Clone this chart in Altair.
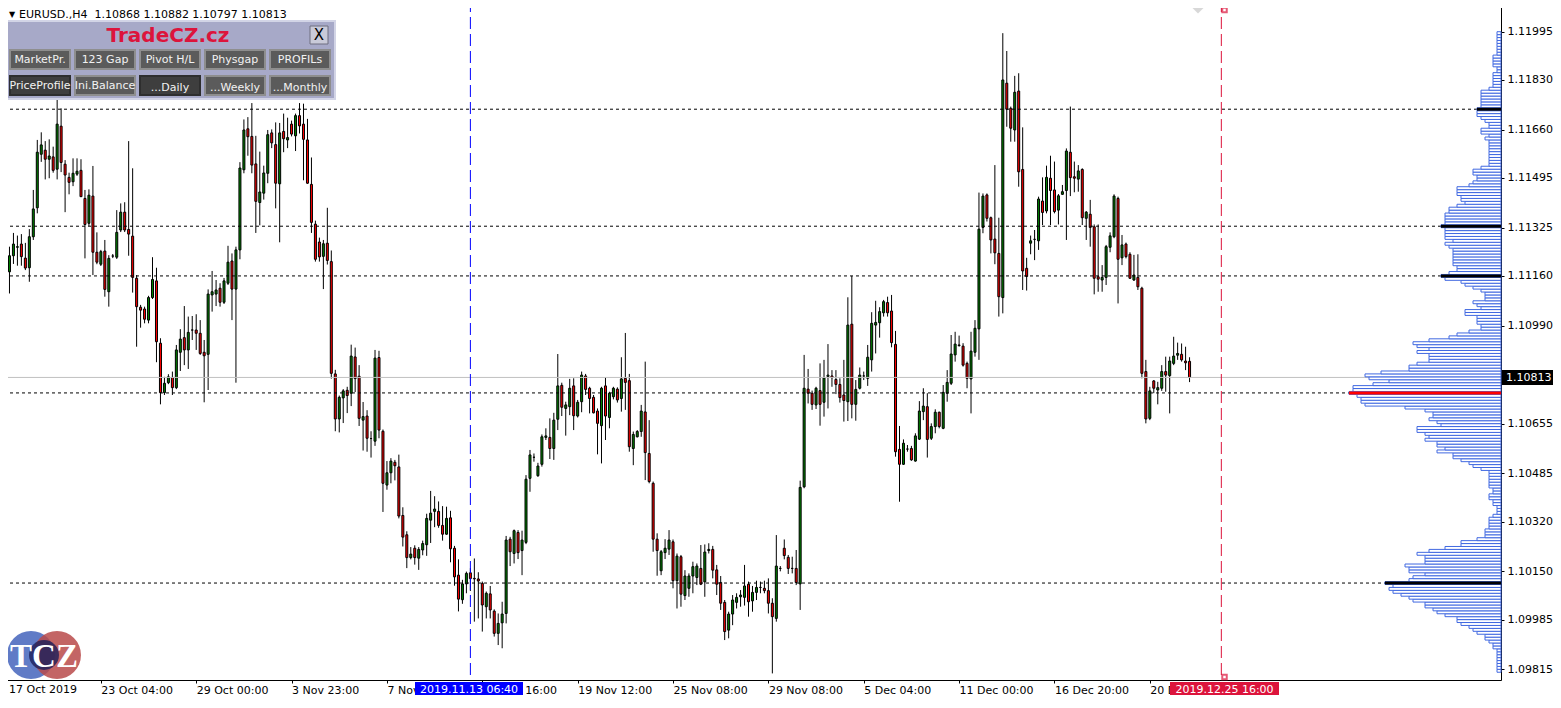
import altair as alt
import pandas as pd

# ---------------- candle data (EURUSD H4) ----------------
open_ = [1.10702,1.11174,1.11229,1.11258,1.11269,1.11221,1.11188,1.11294,1.11393,1.11576,
1.11590,1.11559,1.11567,1.11525,1.11672,1.11542,1.11497,1.11482,1.11508,1.11521,
1.11425,1.11340,1.11433,1.11241,1.11200,1.11245,1.11106,1.11228,1.11224,1.11317,
1.11378,1.11319,1.11296,1.11152,1.11053,1.11047,1.11009,1.11086,1.11143,1.10930,
1.10761,1.10795,1.10813,1.10778,1.10899,1.10949,1.10907,1.10975,1.10975,1.10964,
1.10899,1.10892,1.11095,1.11098,1.11118,1.11070,1.11135,1.11211,1.11115,1.11249,
1.11523,1.11663,1.11637,1.11543,1.11411,1.11443,1.11511,1.11649,1.11609,1.11475,
1.11654,1.11625,1.11679,1.11639,1.11708,1.11679,1.11625,1.11473,1.11337,1.11276,
1.11227,1.11272,1.11209,1.10825,1.10671,1.10743,1.10769,1.10759,1.10883,1.10817,
1.10667,1.10681,1.10604,1.10595,1.10881,1.10629,1.10445,1.10487,1.10523,1.10507,
1.10341,1.10275,1.10197,1.10229,1.10195,1.10223,1.10241,1.10325,1.10355,1.10355,
1.10307,1.10277,1.10333,1.10229,1.10137,1.10053,1.10107,1.10145,1.10126,1.10124,
1.10109,1.10029,1.10073,1.10014,1.09938,1.09974,1.10006,1.10260,1.10211,1.10283,
1.10221,1.10249,1.10468,1.10540,1.10477,1.10516,1.10608,1.10608,1.10570,1.10670,
1.10786,1.10707,1.10713,1.10784,1.10681,1.10730,1.10818,1.10776,1.10745,1.10698,
1.10648,1.10784,1.10676,1.10747,1.10773,1.10741,1.10810,1.10802,1.10570,1.10610,
1.10628,1.10695,1.10553,1.10451,1.10260,1.10152,1.10214,1.10226,1.10251,1.10118,
1.10200,1.10067,1.10092,1.10134,1.10129,1.10160,1.10114,1.10221,1.10225,1.10155,
1.10112,1.10044,1.09949,1.10004,1.10044,1.10063,1.10061,1.10106,1.10049,1.10078,
1.10095,1.10092,1.10084,1.10041,1.09989,1.10160,1.10229,1.10198,1.10160,1.10160,
1.10107,1.10439,1.10773,1.10759,1.10719,1.10768,1.10728,1.10816,1.10818,1.10806,
1.10789,1.10753,1.10730,1.10995,1.10721,1.10776,1.10818,1.10810,1.10873,1.10992,
1.11000,1.11034,1.11069,1.11040,1.10926,1.10567,1.10516,1.10568,1.10570,1.10527,
1.10602,1.10696,1.10713,1.10605,1.10645,1.10694,1.10639,1.10759,1.10793,1.10890,
1.10924,1.10920,1.10861,1.10808,1.10899,1.10979,1.11326,1.11437,1.11359,1.11286,
1.11237,1.11086,1.11819,1.11733,1.11659,1.11792,1.11524,1.11186,1.11272,1.11285,
1.11280,1.11416,1.11382,1.11494,1.11454,1.11385,1.11439,1.11452,1.11583,1.11499,
1.11491,1.11524,1.11357,1.11371,1.11328,1.11157,1.11146,1.11155,1.11258,1.11294,
1.11425,1.11222,1.11269,1.11234,1.11146,1.11155,1.11118,1.10833,1.10673,1.10801,
1.10770,1.10776,1.10833,1.10819,1.10861,1.10889,1.10892,1.10869,1.10868]
high = [1.11389,1.11260,1.11307,1.11298,1.11303,1.11273,1.11320,1.11454,1.11625,1.11651,
1.11621,1.11627,1.11602,1.11779,1.11733,1.11556,1.11513,1.11562,1.11562,1.11559,
1.11454,1.11456,1.11536,1.11309,1.11249,1.11283,1.11231,1.11235,1.11385,1.11408,
1.11412,1.11621,1.11528,1.11163,1.11061,1.11055,1.11092,1.11224,1.11188,1.10947,
1.10815,1.10824,1.10833,1.10924,1.10978,1.11057,1.11021,1.11023,1.11029,1.11009,
1.10941,1.11114,1.11177,1.11146,1.11135,1.11153,1.11263,1.11237,1.11260,1.11549,
1.11695,1.11703,1.11751,1.11639,1.11585,1.11537,1.11659,1.11661,1.11685,1.11683,
1.11715,1.11701,1.11691,1.11715,1.11751,1.11749,1.11697,1.11565,1.11349,1.11291,
1.11283,1.11393,1.11247,1.10839,1.10751,1.10773,1.10781,1.10925,1.10915,1.10855,
1.10729,1.10701,1.10629,1.10907,1.10904,1.10635,1.10527,1.10537,1.10531,1.10549,
1.10369,1.10287,1.10233,1.10239,1.10233,1.10255,1.10347,1.10425,1.10407,1.10389,
1.10373,1.10371,1.10357,1.10237,1.10191,1.10121,1.10149,1.10161,1.10194,1.10147,
1.10115,1.10081,1.10100,1.10020,1.10006,1.10046,1.10271,1.10268,1.10293,1.10291,
1.10289,1.10479,1.10565,1.10553,1.10521,1.10618,1.10639,1.10673,1.10692,1.10893,
1.10795,1.10730,1.10808,1.10810,1.10736,1.10833,1.10825,1.10781,1.10753,1.10707,
1.10781,1.10813,1.10764,1.10781,1.10779,1.10882,1.10965,1.10825,1.10628,1.10633,
1.10719,1.10867,1.10667,1.10457,1.10280,1.10223,1.10260,1.10291,1.10259,1.10211,
1.10206,1.10154,1.10143,1.10183,1.10177,1.10240,1.10242,1.10246,1.10237,1.10172,
1.10134,1.10052,1.10012,1.10069,1.10075,1.10086,1.10172,1.10115,1.10100,1.10118,
1.10115,1.10118,1.10126,1.10058,1.10274,1.10168,1.10259,1.10206,1.10200,1.10223,
1.10460,1.10890,1.10842,1.10768,1.10781,1.10861,1.10873,1.10927,1.10838,1.10838,
1.10810,1.10873,1.11087,1.11160,1.10804,1.10847,1.10833,1.10924,1.11036,1.11075,
1.11053,1.11078,1.11089,1.11095,1.10972,1.10647,1.10601,1.10582,1.10579,1.10622,
1.10732,1.10776,1.10759,1.10656,1.10704,1.10696,1.10787,1.10838,1.10958,1.10969,
1.10956,1.10930,1.10867,1.10969,1.11009,1.11445,1.11442,1.11442,1.11363,1.11539,
1.11359,1.11990,1.11929,1.11739,1.11844,1.11853,1.11668,1.11222,1.11298,1.11317,
1.11431,1.11497,1.11537,1.11571,1.11551,1.11440,1.11471,1.11596,1.11739,1.11551,
1.11539,1.11528,1.11382,1.11420,1.11336,1.11336,1.11197,1.11266,1.11309,1.11439,
1.11431,1.11300,1.11274,1.11241,1.11232,1.11234,1.11123,1.10873,1.10781,1.10804,
1.10798,1.10855,1.10884,1.10884,1.10952,1.10932,1.10929,1.10918,1.10882]
low = [1.10650,1.11100,1.11201,1.11195,1.11195,1.11180,1.11140,1.11283,1.11374,1.11550,
1.11490,1.11494,1.11513,1.11490,1.11515,1.11378,1.11439,1.11467,1.11502,1.11430,
1.11220,1.11331,1.11163,1.11200,1.11194,1.11089,1.11055,1.11221,1.11218,1.11310,
1.11310,1.11229,1.11103,1.10918,1.10983,1.10998,1.10998,1.11081,1.10865,1.10721,
1.10753,1.10790,1.10753,1.10773,1.10835,1.10855,1.10842,1.10941,1.10907,1.10890,
1.10728,1.10770,1.11038,1.11057,1.11055,1.11064,1.11129,1.11009,1.10795,1.11217,
1.11511,1.11571,1.11511,1.11307,1.11333,1.11421,1.11477,1.11597,1.11391,1.11275,
1.11583,1.11597,1.11637,1.11587,1.11647,1.11487,1.11475,1.11307,1.11209,1.11209,
1.11115,1.11199,1.10809,1.10629,1.10625,1.10657,1.10691,1.10715,1.10763,1.10647,
1.10563,1.10559,1.10539,1.10579,1.10605,1.10353,1.10429,1.10451,1.10461,1.10331,
1.10235,1.10161,1.10191,1.10173,1.10155,1.10205,1.10203,1.10247,1.10301,1.10299,
1.10255,1.10275,1.10181,1.10101,1.10013,1.10039,1.10075,1.10083,1.09978,1.09989,
1.09944,1.09989,1.09989,1.09927,1.09898,1.09887,1.09972,1.10168,1.10177,1.10192,
1.10137,1.10243,1.10422,1.10525,1.10473,1.10508,1.10599,1.10534,1.10531,1.10633,
1.10681,1.10614,1.10684,1.10633,1.10676,1.10694,1.10753,1.10690,1.10690,1.10550,
1.10519,1.10599,1.10639,1.10738,1.10727,1.10696,1.10702,1.10559,1.10513,1.10608,
1.10610,1.10462,1.10451,1.10217,1.10135,1.10137,1.10192,1.10206,1.10092,1.10023,
1.10029,1.10052,1.10063,1.10075,1.10103,1.10103,1.10063,1.10211,1.10126,1.10069,
1.10018,1.09915,1.09921,1.09966,1.10023,1.10029,1.10033,1.09995,1.10012,1.10052,
1.10075,1.10075,1.10006,1.09801,1.09978,1.10150,1.10191,1.10141,1.10143,1.10103,
1.10018,1.10434,1.10724,1.10702,1.10705,1.10648,1.10679,1.10707,1.10781,1.10756,
1.10727,1.10662,1.10664,1.10673,1.10665,1.10772,1.10804,1.10784,1.10833,1.10895,
1.10949,1.11021,1.11021,1.10916,1.10542,1.10388,1.10514,1.10559,1.10528,1.10525,
1.10599,1.10667,1.10539,1.10599,1.10622,1.10639,1.10636,1.10730,1.10787,1.10867,
1.10918,1.10850,1.10776,1.10690,1.10884,1.10873,1.11306,1.11346,1.11237,1.11200,
1.11021,1.11032,1.11670,1.11619,1.11619,1.11465,1.11112,1.11110,1.11234,1.11214,
1.11249,1.11334,1.11374,1.11334,1.11374,1.11336,1.11437,1.11283,1.11433,1.11446,
1.11448,1.11334,1.11283,1.11260,1.11097,1.11106,1.11106,1.11129,1.11241,1.11289,
1.11066,1.11197,1.11220,1.11150,1.11143,1.11112,1.10810,1.10656,1.10667,1.10759,
1.10721,1.10767,1.10764,1.10690,1.10855,1.10873,1.10867,1.10838,1.10797]
close = [1.11173,1.11229,1.11269,1.11260,1.11226,1.11187,1.11294,1.11389,1.11583,1.11608,
1.11559,1.11570,1.11521,1.11679,1.11548,1.11505,1.11480,1.11511,1.11518,1.11431,
1.11336,1.11436,1.11241,1.11207,1.11243,1.11114,1.11220,1.11228,1.11309,1.11378,
1.11317,1.11303,1.11155,1.11055,1.11043,1.11012,1.11086,1.11148,1.10935,1.10761,
1.10793,1.10815,1.10778,1.10907,1.10944,1.10907,1.10967,1.10975,1.10964,1.10895,
1.10887,1.11098,1.11106,1.11112,1.11070,1.11143,1.11207,1.11115,1.11249,1.11529,
1.11659,1.11636,1.11539,1.11415,1.11447,1.11512,1.11643,1.11615,1.11477,1.11649,
1.11629,1.11633,1.11645,1.11708,1.11673,1.11627,1.11477,1.11343,1.11217,1.11225,
1.11270,1.11213,1.10827,1.10671,1.10745,1.10767,1.10751,1.10886,1.10809,1.10673,
1.10679,1.10605,1.10604,1.10879,1.10633,1.10451,1.10487,1.10527,1.10511,1.10339,
1.10267,1.10197,1.10209,1.10197,1.10225,1.10245,1.10331,1.10349,1.10363,1.10307,
1.10277,1.10331,1.10227,1.10131,1.10055,1.10107,1.10143,1.10125,1.10124,1.10117,
1.10035,1.10075,1.10018,1.09938,1.09972,1.10004,1.10257,1.10217,1.10289,1.10214,
1.10257,1.10465,1.10548,1.10540,1.10510,1.10610,1.10613,1.10570,1.10667,1.10784,
1.10711,1.10719,1.10776,1.10682,1.10728,1.10821,1.10772,1.10741,1.10692,1.10656,
1.10776,1.10681,1.10759,1.10776,1.10736,1.10808,1.10796,1.10576,1.10618,1.10628,
1.10698,1.10556,1.10457,1.10260,1.10221,1.10217,1.10229,1.10257,1.10118,1.10202,
1.10072,1.10134,1.10134,1.10166,1.10168,1.10106,1.10216,1.10225,1.10154,1.10106,
1.10041,1.09944,1.10004,1.10052,1.10061,1.10069,1.10100,1.10046,1.10078,1.10095,
1.10095,1.10084,1.10041,1.09995,1.10168,1.10160,1.10204,1.10160,1.10160,1.10112,
1.10437,1.10776,1.10759,1.10721,1.10776,1.10721,1.10811,1.10821,1.10812,1.10789,
1.10744,1.10734,1.10992,1.10721,1.10772,1.10821,1.10818,1.10882,1.10998,1.11001,
1.11038,1.11072,1.11034,1.10932,1.10559,1.10516,1.10588,1.10568,1.10531,1.10613,
1.10698,1.10715,1.10601,1.10645,1.10694,1.10645,1.10762,1.10796,1.10893,1.10927,
1.10922,1.10855,1.10810,1.10903,1.10981,1.11320,1.11433,1.11357,1.11283,1.11239,
1.11089,1.11830,1.11730,1.11665,1.11788,1.11516,1.11177,1.11158,1.11280,1.11285,
1.11423,1.11377,1.11497,1.11452,1.11380,1.11434,1.11448,1.11587,1.11496,1.11494,
1.11519,1.11359,1.11378,1.11326,1.11152,1.11149,1.11155,1.11260,1.11297,1.11433,
1.11217,1.11266,1.11226,1.11152,1.11163,1.11123,1.10827,1.10671,1.10767,1.10776,
1.10778,1.10833,1.10821,1.10869,1.10886,1.10895,1.10873,1.10863,1.10813]

# ---------------- axis labels ----------------
time_tick_bars = [0, 24, 48, 72, 96, 120, 144, 168, 192, 216, 240, 264, 288]
time_tick_labels = ["17 Oct 2019", "23 Oct 04:00", "29 Oct 00:00", "3 Nov 23:00",
                    "7 Nov 19:00", "13 Nov 16:00", "19 Nov 12:00", "25 Nov 08:00",
                    "29 Nov 08:00", "5 Dec 04:00", "11 Dec 00:00", "16 Dec 20:00",
                    "20 Dec 16:00"]
price_ticks = [1.11995, 1.11830, 1.11660, 1.11495, 1.11325, 1.11160, 1.10990,
               1.10655, 1.10485, 1.10320, 1.10150, 1.09985, 1.09815]
bid_price = 1.10813

# ---------------- price profile (counts per pip, from 1.0981 upward) ----------------
profile_bottom = 1.0981
profile_counts = [1,1,1,1,1,1,1,1,2,2,
3,4,4,6,7,8,10,11,11,14,
16,17,19,19,22,23,25,27,28,27,
29,23,22,19,23,23,24,19,19,19,
21,18,14,10,10,6,4,4,4,3,
3,3,3,2,1,1,1,2,2,3,
3,2,2,3,3,3,3,3,3,5,
7,8,10,12,12,16,14,16,16,19,
18,19,21,21,15,16,18,17,17,19,
24,34,35,35,36,38,37,37,32,28,
33,34,30,23,23,21,18,18,18,21,
18,21,22,18,13,11,8,5,5,6,
6,6,9,9,5,6,7,4,4,4,
5,7,9,10,14,15,13,11,11,12,
12,12,12,12,12,13,14,12,14,14,
14,14,15,14,14,14,14,13,13,11,
9,10,10,11,11,11,8,7,6,6,
7,7,5,3,3,3,3,3,3,3,
3,3,4,3,5,5,3,3,4,5,
6,6,6,5,5,5,5,5,5,3,
2,2,2,2,2,1,1,2,2,2,
2,1,1,1,1,1,1,1,1]
poc_levels = [1.1173, 1.1133, 1.1116, 1.1011]
main_poc_level = 1.1076

# vertical markers (bar positions)
start_marker_bar = 117.0   # 2019.11.13 06:40
end_marker_bar = 306.0     # 2019.12.25 16:00

buttons_row1 = ["MarketPr.", "123 Gap", "Pivot H/L", "Physgap", "PROFILs"]
buttons_row2 = ["PriceProfile", "Ini.Balance", "...Daily", "...Weekly", "...Monthly"]

# ---------------- build tables ----------------
n = len(open_)
df = pd.DataFrame({"bar": list(range(n)), "open": open_, "high": high,
                   "low": low, "close": close})
df["lo"] = df[["open", "close"]].min(axis=1)
df["hi"] = df[["open", "close"]].max(axis=1)
df["dir"] = ["up" if c >= o else "down" for o, c in zip(df["open"], df["close"])]

levels = [round(profile_bottom + i * 0.0001, 4) for i in range(len(profile_counts))]
prof = pd.DataFrame({"level": levels, "count": profile_counts})
prof["lo"] = prof["level"] - 0.00005
prof["hi"] = prof["level"] + 0.00005
prof["zero"] = 0
poc_rows = prof[prof["level"].round(4).isin([round(v, 4) for v in poc_levels])].copy()
main_row = prof[prof["level"].round(4) == round(main_poc_level, 4)].copy()

W, H = 1501, 680
FONT = "DejaVu Sans"
# price at the top edge and at the time-axis line (2.925 px per pip)
ys = alt.Scale(domain=[1.097785, 1.121034], nice=False, zero=False)
xs = alt.Scale(domain=[-0.125, 375.125], nice=False, zero=False)

label_expr = ("datum.value == 0 ? '' : [" + ",".join("'%s'" % s for s in time_tick_labels)
              + "][round(datum.value/24)]")
x_axis = alt.Axis(values=time_tick_bars, labelExpr=label_expr, orient="bottom",
                  domainColor="black", domainWidth=1, tickColor="black", tickSize=3,
                  labelFont=FONT, labelFontSize=11, labelColor="black", labelAlign="left",
                  labelPadding=1, labelOverlap=False, labelFlush=False, labelBound=False,
                  grid=False, title=None, labelBaseline="top")
y_axis = alt.Axis(values=price_ticks, format=".5f", orient="right", domainColor="black",
                  domainWidth=1, tickColor="black", tickSize=3, labelFont=FONT,
                  labelFontSize=11, labelColor="black", labelPadding=3, labelFlush=False,
                  labelOverlap=False, grid=False, title=None)

hl = pd.DataFrame({"level": poc_levels + [main_poc_level]})
hlines = alt.Chart(hl).mark_rule(color="black", strokeWidth=1, strokeDash=[3, 3]).encode(
    y=alt.Y("level:Q", scale=ys, axis=y_axis))
bidline = alt.Chart(pd.DataFrame({"p": [bid_price]})).mark_rule(color="#C0C0C0", strokeWidth=1).encode(
    y=alt.Y("p:Q", scale=ys, axis=y_axis))

wicks = alt.Chart(df).mark_rule(color="black", strokeWidth=1, clip=True).encode(
    x=alt.X("bar:Q", scale=xs, axis=x_axis),
    y=alt.Y("low:Q", scale=ys, axis=y_axis),
    y2="high:Q")
bodies = alt.Chart(df).mark_bar(size=2, stroke="black", strokeWidth=1, clip=True).encode(
    x=alt.X("bar:Q", scale=xs, axis=x_axis),
    y=alt.Y("lo:Q", scale=ys, axis=y_axis),
    y2="hi:Q",
    fill=alt.Fill("dir:N", scale=alt.Scale(domain=["up", "down"], range=["#008000", "#FF0000"]), legend=None))

vstart = alt.Chart(pd.DataFrame({"bar": [start_marker_bar]})).mark_rule(
    strokeWidth=1, strokeDash=[12, 5], color="#0000FF").encode(x=alt.X("bar:Q", scale=xs, axis=x_axis))
vend = alt.Chart(pd.DataFrame({"bar": [end_marker_bar]})).mark_rule(
    strokeWidth=1, strokeDash=[12, 5], color="#DC143C").encode(x=alt.X("bar:Q", scale=xs, axis=x_axis))

main = alt.layer(wicks, bodies, hlines, bidline, vstart, vend)

pxs = alt.Scale(domain=[0, W / 4.0], reverse=True, nice=False, zero=True)
prof_bars = alt.Chart(prof).mark_rect(fill="white", stroke="#4169E1", strokeWidth=1).encode(
    x=alt.X("count:Q", scale=pxs, axis=None), x2="zero:Q",
    y=alt.Y("lo:Q", scale=ys, axis=y_axis), y2="hi:Q")
poc_black = alt.Chart(poc_rows).mark_rule(strokeWidth=3, color="black").encode(
    x=alt.X("count:Q", scale=pxs, axis=None), x2="zero:Q",
    y=alt.Y("level:Q", scale=ys, axis=y_axis))
poc_red = alt.Chart(main_row).mark_rule(strokeWidth=3, color="#FF0000").encode(
    x=alt.X("count:Q", scale=pxs, axis=None), x2="zero:Q",
    y=alt.Y("level:Q", scale=ys, axis=y_axis))
profile = alt.layer(prof_bars, poc_black, poc_red)

one = pd.DataFrame({"a": [0]})


def rect(x0, x1, y0, y1, fill, stroke=None, sw=1):
    kw = dict(fill=fill, clip=False)
    if stroke:
        kw["stroke"] = stroke
        kw["strokeWidth"] = sw
    return alt.Chart(one).mark_rect(**kw).encode(
        x=alt.value(x0), x2=alt.value(x1), y=alt.value(y0), y2=alt.value(y1))


def text(s, x, y, size=11, color="black", weight="normal", align="left",
         baseline="middle", font=FONT):
    return alt.Chart(one).mark_text(text=s, fontSize=size, font=font, fontWeight=weight,
                                    color=color, align=align, baseline=baseline,
                                    clip=False).encode(x=alt.value(x), y=alt.value(y))


ann = []
# header
ann.append(text("\u25BC", 12, 15, size=8, align="center"))
ann.append(text("EURUSD.,H4\u00a0\u00a01.10868 1.10882 1.10797 1.10813", 19, 15))
# first time label (its tick lies at the very left edge)
ann.append(text(time_tick_labels[0], 9, 684, baseline="top"))
# panel
ann.append(rect(5, 335, 21, 99, "#A7A9C8", "#D2D4E6", 2))
ann.append(text("TradeCZ.cz", 168, 36, size=20, color="#DC143C", weight="bold", align="center"))
ann.append(rect(310, 328, 26, 44, "#C9CAD9", "#6E6E80", 1))
ann.append(text("X", 319, 35, size=15, align="center"))
for r, row in enumerate([buttons_row1, buttons_row2]):
    for c, lab in enumerate(row):
        x0 = 10 + 65 * c
        y0 = 50 + 26 * r
        pressed = (r == 1 and c in (0, 2))
        ann.append(rect(x0, x0 + 60, y0, y0 + 19, "#3E3E3E" if pressed else "#5B5B5B",
                        "#2E2E2E" if pressed else "#8E8E8E", 2))
        ty = y0 + 10 if (r == 0 or c < 2) else y0 + 12
        ann.append(text(lab, x0 + 30, ty, size=11, color="#F2F2F2", align="center"))
# logo
ann.append(alt.Chart(one).mark_point(shape="circle", filled=True, size=2300, color="#4F6DC0",
                                     opacity=0.9).encode(x=alt.value(31), y=alt.value(655)))
ann.append(alt.Chart(one).mark_point(shape="circle", filled=True, size=2300, color="#B84A4A",
                                     opacity=0.85).encode(x=alt.value(57), y=alt.value(655)))
ann.append(alt.Chart(one).mark_point(shape="circle", filled=True, size=900, color="#1C1F5A",
                                     opacity=0.8).encode(x=alt.value(44), y=alt.value(655)))
ann.append(text("TCZ", 44, 657, size=33, color="white", weight="bold", align="center",
                font="Liberation Serif"))
# markers on the end line
ann.append(alt.Chart(one).mark_point(shape="diamond", filled=True, size=120, color="#C8C8C8").encode(
    x=alt.value(1198), y=alt.value(8)))
ann.append(alt.Chart(one).mark_point(shape="square", filled=False, size=20, color="#DC143C").encode(
    x=alt.value(1224.5), y=alt.value(10)))
ann.append(alt.Chart(one).mark_point(shape="square", filled=False, size=20, color="#DC143C").encode(
    x=alt.value(1224.5), y=alt.value(677)))
# time labels of the markers
ann.append(rect(415, 523, 682, 700, "#0000FF"))
ann.append(text("2019.11.13 06:40", 469, 684, color="white", align="center", baseline="top"))
ann.append(rect(1170, 1279, 682, 700, "#DC143C"))
ann.append(text("2019.12.25 16:00", 1224.5, 684, color="white", align="center", baseline="top"))
# current price label
ann.append(rect(1502, 1553, 370, 385, "black"))
ann.append(text("1.10813", 1506, 377.5, color="white"))

annotations = alt.layer(*ann)

chart = alt.layer(main, profile, annotations).resolve_scale(x="independent").properties(
    width=W, height=H,
    autosize=alt.AutoSizeParams(type="none"),
    padding={"left": -8, "top": -8, "right": 52, "bottom": 15},
).configure_view(stroke=None).configure(background="white")

chart.save("out.html", embed_options={"renderer": "svg", "actions": False})
